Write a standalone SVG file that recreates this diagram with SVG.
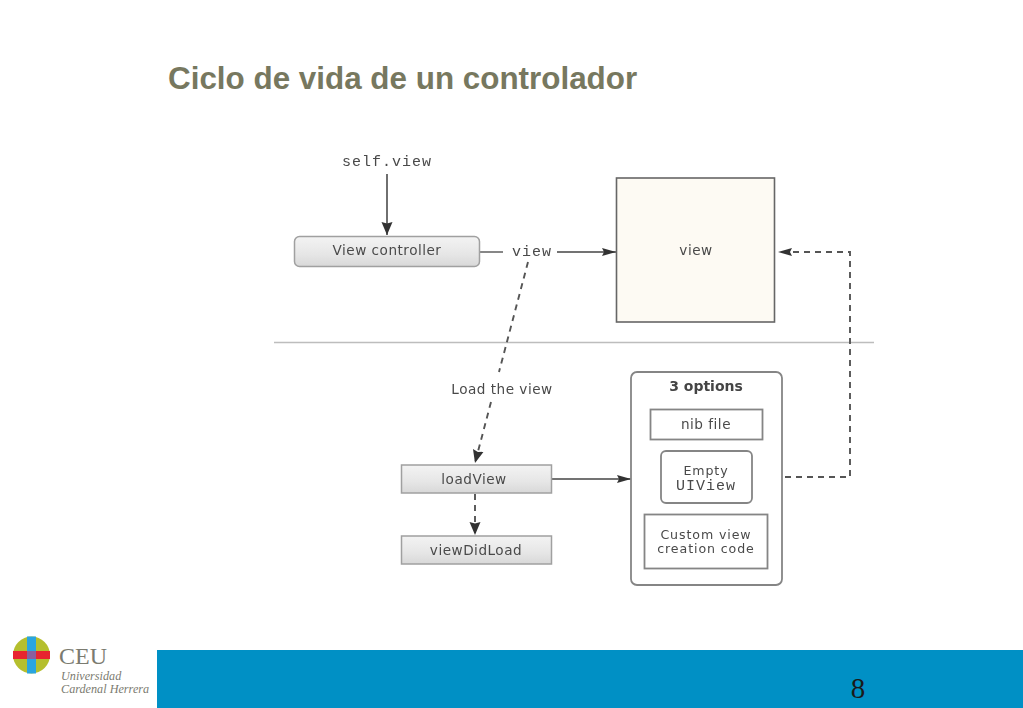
<svg xmlns="http://www.w3.org/2000/svg" width="1023" height="708" viewBox="0 0 1023 708">
<defs>
<linearGradient id="btn" x1="0" y1="0" x2="0" y2="1"><stop offset="0" stop-color="#f3f3f3"/><stop offset="0.6" stop-color="#e6e6e6"/><stop offset="1" stop-color="#d8d8d8"/></linearGradient>
<marker id="ah" markerUnits="userSpaceOnUse" markerWidth="16" markerHeight="12" refX="14" refY="5" orient="auto"><path d="M0 1L14 5L0 9L2 5Z" fill="#333"/></marker>
<marker id="ahw" markerUnits="userSpaceOnUse" markerWidth="16" markerHeight="14" refX="13" refY="6" orient="auto"><path d="M0 0.500L13 6L0 11.500L1.500 6Z" fill="#333"/></marker>
<filter id="soft" filterUnits="userSpaceOnUse" x="0" y="0" width="1023" height="708"><feGaussianBlur stdDeviation="0.45"/></filter>
</defs>
<style>
.sans{font-family:"DejaVu Sans",Verdana,sans-serif;fill:#4a4a4a}
.lbl{font-size:13.6px;letter-spacing:0.5px;text-anchor:middle}
.small{font-size:12.6px;letter-spacing:0.9px}
.mono{font-family:"Liberation Mono","DejaVu Sans Mono",monospace;fill:#4a4a4a;font-size:15px;letter-spacing:1px;text-anchor:middle}
.box{fill:#fff;stroke:#858585;stroke-width:1.8}
.btn{fill:url(#btn);stroke:#a0a0a0;stroke-width:1.5}
.solid{fill:none;stroke:#444;stroke-width:1.3}
.dash{fill:none;stroke:#555;stroke-width:1.9;stroke-dasharray:6 5}
</style>
<rect width="1023" height="708" fill="#fff"/>
<text x="168" y="89" font-family="'Liberation Sans',Arial,sans-serif" font-size="31.4" font-weight="bold" fill="#77785f">Ciclo de vida de un controlador</text>
<g filter="url(#soft)">
<line x1="274" y1="342.500" x2="874" y2="342.500" stroke="#bdbdbd" stroke-width="1.6"/>
<g id="connectors">
<path class="solid" style="stroke:#555;stroke-width:1.7" d="M387 174V235" marker-end="url(#ahw)"/>
<path class="solid" d="M480 252H503"/>
<path class="solid" d="M557 252H616" marker-end="url(#ah)"/>
<path class="dash" d="M528 262L499 372"/>
<path class="dash" d="M491 402L475 463" marker-end="url(#ahw)"/>
<path class="dash" d="M475 494V535" marker-end="url(#ahw)"/>
<path class="solid" d="M552 479H631" marker-end="url(#ah)"/>
<path class="dash" d="M785 477H850V252H778" marker-end="url(#ah)"/>
</g>
<g id="self-view"><text class="mono" x="387" y="166">self.view</text></g>
<g id="view-controller"><rect class="btn" x="294.500" y="236.500" width="185" height="30" rx="5"/><text class="sans lbl" x="387" y="255">View controller</text></g>
<g id="view-label"><text class="mono" x="532" y="256">view</text></g>
<g id="view"><rect x="616.500" y="178" width="158" height="144" fill="#fdfaf3" stroke="#666" stroke-width="1.6"/><text class="sans lbl" x="696" y="255">view</text></g>
<g id="load-label"><text class="sans lbl" x="502" y="394">Load the view</text></g>
<g id="loadView"><rect class="btn" x="401.500" y="465" width="150" height="28"/><text class="sans lbl" x="474" y="484">loadView</text></g>
<g id="viewDidLoad"><rect class="btn" x="401.500" y="536" width="150" height="28"/><text class="sans lbl" x="476" y="555">viewDidLoad</text></g>
<g id="options">
<rect class="box" x="631" y="372" width="151" height="213" rx="6"/>
<text x="706" y="391" font-family="'DejaVu Sans',Verdana,sans-serif" font-size="14" font-weight="bold" fill="#444" text-anchor="middle">3 options</text>
</g>
<g id="nib-file"><rect class="box" x="650.500" y="409.500" width="112" height="30"/><text class="sans lbl" x="706" y="429">nib file</text></g>
<g id="empty-uiview"><rect class="box" x="661" y="451" width="91" height="52" rx="5"/><text class="sans lbl small" x="706" y="475">Empty</text><text class="mono" x="706" y="490">UIView</text></g>
<g id="custom-view"><rect class="box" x="644.500" y="514.500" width="123" height="54"/><text class="sans lbl small" x="706" y="539">Custom view</text><text class="sans lbl small" x="706" y="553">creation code</text></g>
</g>
<g id="footer">
<rect x="157" y="650" width="866" height="58" fill="#0090c5"/>
<text x="858" y="698" font-family="'Liberation Serif','Times New Roman',serif" font-size="29" fill="#1a1a1a" text-anchor="middle">8</text>
</g>
<g id="logo">
<circle cx="31.500" cy="655" r="18.500" fill="#b5bf2e"/>
<rect x="27" y="636.500" width="9" height="37" fill="#2aa5e0"/>
<rect x="13" y="651" width="37" height="8" fill="#e8252f"/>
<rect x="27" y="651" width="9" height="8" fill="#8a5f9e"/>
<text x="59" y="664" font-family="'Liberation Serif','Times New Roman',serif" font-size="24" fill="#7b7b70">CEU</text>
<text x="61" y="680" font-family="'Liberation Serif','Times New Roman',serif" font-size="12.2" font-style="italic" fill="#7b7b70">Universidad</text>
<text x="61" y="693" font-family="'Liberation Serif','Times New Roman',serif" font-size="12.2" font-style="italic" fill="#7b7b70">Cardenal Herrera</text>
</g>
</svg>
